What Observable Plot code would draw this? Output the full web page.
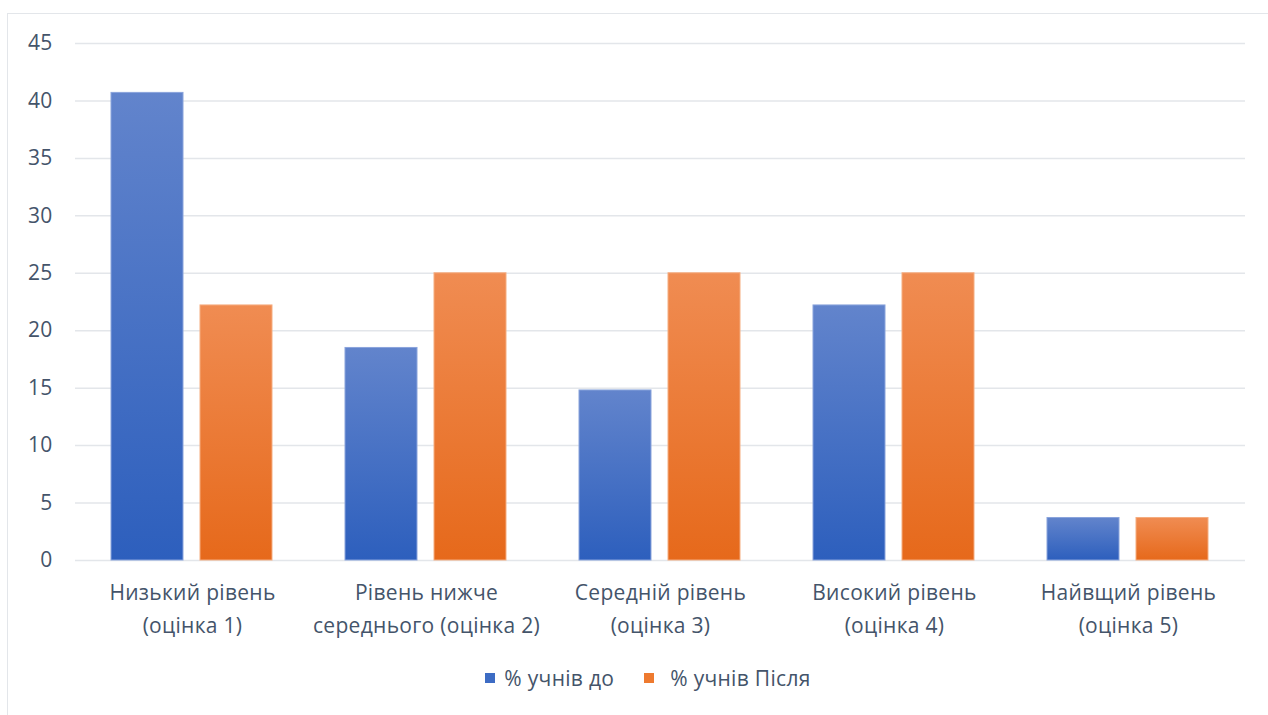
<!DOCTYPE html>
<html>
<head>
<meta charset="utf-8">
<script src="https://cdn.jsdelivr.net/npm/d3@7"></script>
<script src="https://cdn.jsdelivr.net/npm/@observablehq/plot@0.6"></script>
<style>
  html, body { margin: 0; padding: 0; background: #fff; }
  body { width: 1268px; height: 715px; overflow: hidden; position: relative; font-family: "Open Sans", "Noto Sans", sans-serif; }
  #frame { position: absolute; left: 7px; top: 13px; width: 1280px; height: 720px; border: 1.5px solid #e3e6ea; box-sizing: border-box; }
  #chart { position: absolute; left: 0; top: 0; }
  #legend { position: absolute; top: 664px; left: 0; width: 1268px; box-sizing: border-box; padding-left: 28px; display: flex; justify-content: center; font-size: 21px; letter-spacing: 0.3px; color: #44546a; }
  .item { display: flex; align-items: center; }
  .item + .item { margin-left: 30px; }
  .sw { width: 10px; height: 10px; margin-right: 9px; }
  .item + .item .sw { margin-right: 16px; }
</style>
</head>
<body>
<div id="frame"></div>
<div id="chart"></div>
<div id="legend"></div>
<script>
const categories = ["Низький рівень\n(оцінка 1)", "Рівень нижче\nсереднього (оцінка 2)", "Середній рівень\n(оцінка 3)", "Високий рівень\n(оцінка 4)", "Найвщий рівень\n(оцінка 5)"];
const series = ["% учнів до", "% учнів Після"];
const before = [40.7, 18.5, 14.8, 22.2, 3.7];
const after = [22.2, 25, 25, 25, 3.7];
const yTicks = [0, 5, 10, 15, 20, 25, 30, 35, 40, 45];
const gradIds = ["gBlue", "gOrange"];
const gradStops = [["#6284cc", "#2d5fbd"], ["#f08c52", "#e6691b"]];
const swatch = ["#3d6cc4", "#ee7a2f"];

const data = [];
categories.forEach((c, i) => {
  data.push({cat: c, s: series[0], v: before[i]});
  data.push({cat: c, s: series[1], v: after[i]});
});

const defs = () => {
  const d = d3.create("svg:defs");
  gradIds.forEach((id, k) => {
    const g = d.append("linearGradient").attr("id", id).attr("x1", 0).attr("y1", 0).attr("x2", 0).attr("y2", 1);
    g.append("stop").attr("offset", "0%").attr("stop-color", gradStops[k][0]);
    g.append("stop").attr("offset", "100%").attr("stop-color", gradStops[k][1]);
  });
  return d.node();
};

const chart = Plot.plot({
  width: 1268,
  height: 650,
  marginLeft: 73,
  marginRight: 21,
  marginTop: 43,
  marginBottom: 90,
  style: {fontFamily: "'Open Sans', 'Noto Sans', sans-serif", fontSize: "21px", color: "#44546a", background: "transparent", letterSpacing: "0.3px"},
  fx: {domain: categories, padding: 0, label: null},
  x: {domain: series, paddingInner: 0.189, paddingOuter: 0.399, axis: null},
  y: {domain: [0, 45], ticks: yTicks, label: null},
  marks: [
    defs,
    Plot.gridY(yTicks, {stroke: "#e3e6ea", strokeOpacity: 1, strokeWidth: 1.5}),
    Plot.barY(data, {fx: "cat", x: "s", y: "v", fill: d => d.s === series[0] ? "url(#gBlue)" : "url(#gOrange)", stroke: d => d.s === series[0] ? "#8aa4dc" : "#f5ad80", strokeWidth: 1}),
    Plot.axisY(yTicks, {tickSize: 0, tickPadding: 23, fontSize: 21, fill: "#44546a", label: null}),
    Plot.axisFx({anchor: "bottom", tickSize: 0, tickPadding: 16, fontSize: 21, lineHeight: 1.58, fill: "#44546a", label: null})
  ]
});
document.getElementById("chart").appendChild(chart);

const leg = d3.select("#legend");
series.forEach((s, k) => {
  const it = leg.append("div").attr("class", "item");
  it.append("div").attr("class", "sw").style("background", swatch[k]);
  it.append("span").text(s);
});
</script>
</body>
</html>
